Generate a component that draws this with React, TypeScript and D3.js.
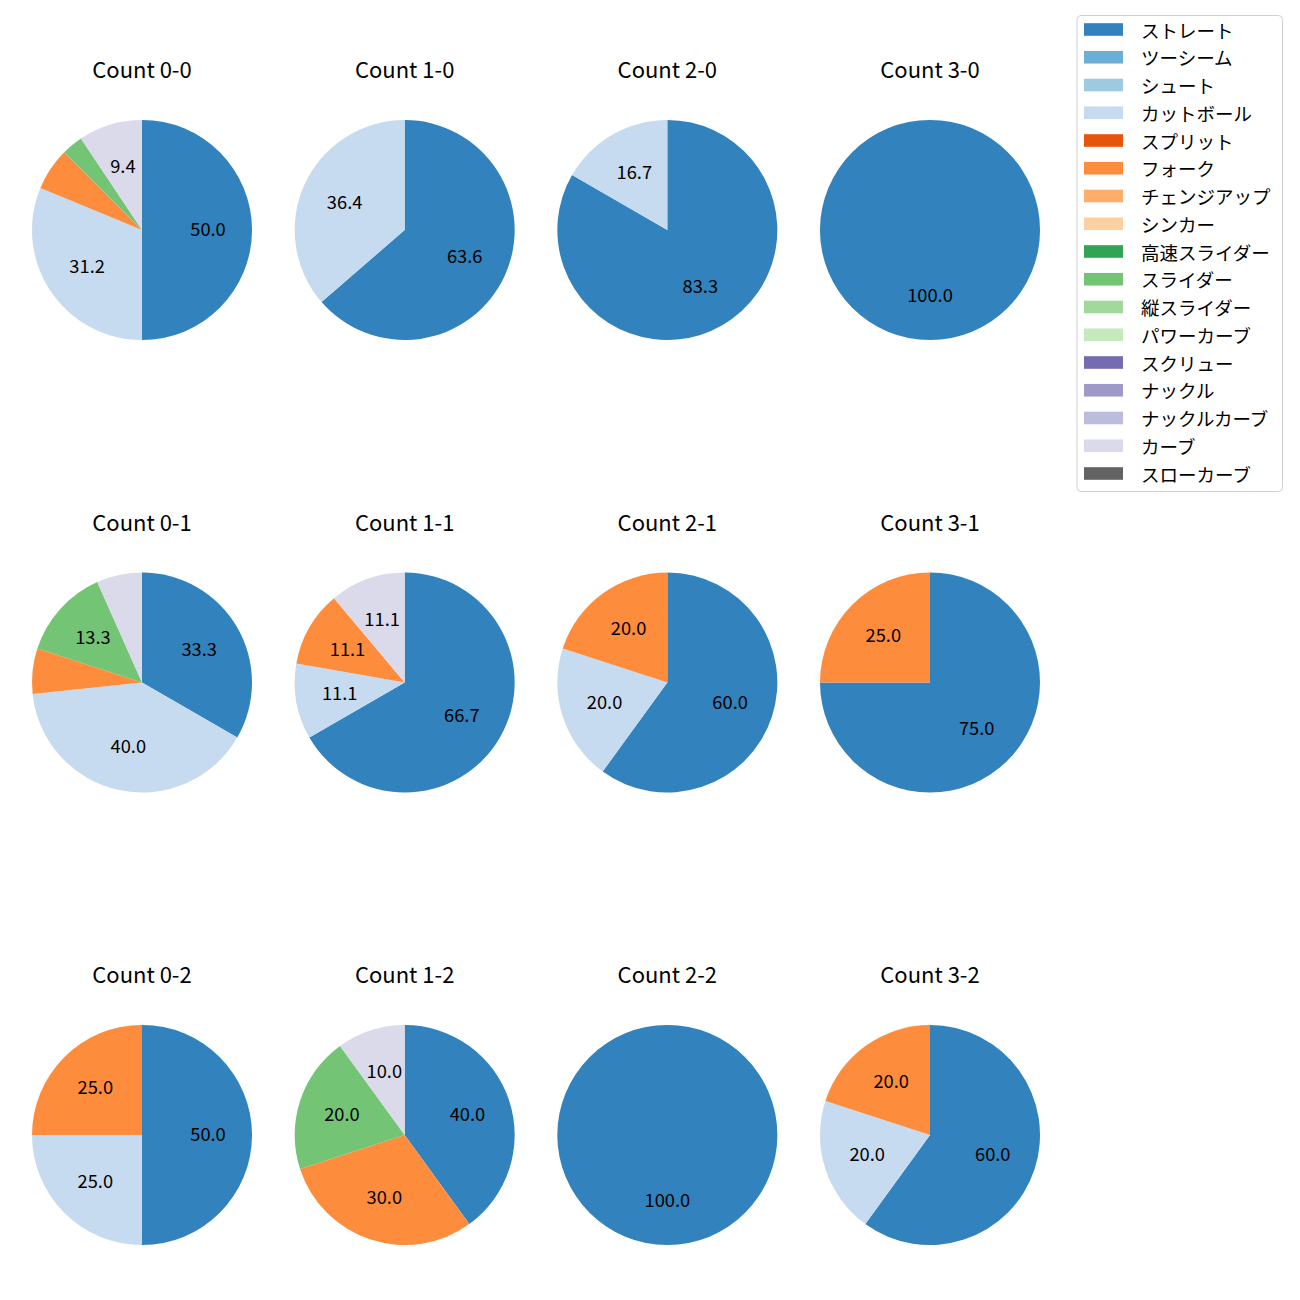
import React from "react";
import * as d3 from "d3";

const pitchTypes = ["ストレート","ツーシーム","シュート","カットボール","スプリット","フォーク","チェンジアップ","シンカー","高速スライダー","スライダー","縦スライダー","パワーカーブ","スクリュー","ナックル","ナックルカーブ","カーブ","スローカーブ"];
const pitchColors = ["#3182bd","#6baed6","#9ecae1","#c6dbef","#e6550d","#fd8d3c","#fdae6b","#fdd0a2","#31a354","#74c476","#a1d99b","#c7e9c0","#756bb1","#9e9ac8","#bcbddc","#dadaeb","#636363"];

const countLabels = ["Count 0-0","Count 1-0","Count 2-0","Count 3-0","Count 0-1","Count 1-1","Count 2-1","Count 3-1","Count 0-2","Count 1-2","Count 2-2","Count 3-2"];

// pitch counts per count situation (same order as countLabels)
const straight = [16,7,5,1,5,6,3,3,2,4,1,3];
const cutter =   [10,4,1,0,6,1,1,0,1,0,0,1];
const fork =     [2,0,0,0,1,1,1,1,1,3,0,1];
const slider =   [1,0,0,0,2,0,0,0,0,2,0,0];
const curve =    [3,0,0,0,1,1,0,0,0,1,0,0];

const seriesByType: Record<string, number[]> = {
  "ストレート": straight,
  "カットボール": cutter,
  "フォーク": fork,
  "スライダー": slider,
  "カーブ": curve,
};

const FONT = "'Noto Sans CJK JP', 'Noto Sans', sans-serif";

function fmt(p: number) {
  return (p - 1e-9).toFixed(1);
}

export default function App() {
  const colX = d3.scalePoint<number>().domain([0,1,2,3]).range([142, 930]);
  const rowY = d3.scalePoint<number>().domain([0,1,2]).range([230, 1135]);
  const r = 110;
  const pie = d3.pie<{ type: string; v: number; color: string }>().sort(null).value(d => d.v).startAngle(0).endAngle(2 * Math.PI);
  const arc = d3.arc<any>().innerRadius(0).outerRadius(r);

  return (
    <svg width={1300} height={1300} style={{ position: "absolute", left: 0, top: 0, background: "#fff" }} fontFamily={FONT}>
      <rect width={1300} height={1300} fill="#fff" />
      {countLabels.map((lab, i) => {
        const cx = colX(i % 4)!;
        const cy = rowY(Math.floor(i / 4))!;
        const data = pitchTypes.map((t, k) => ({ type: t, v: seriesByType[t] ? seriesByType[t][i] : 0, color: pitchColors[k] })).filter(d => d.v > 0);
        const total = d3.sum(data, d => d.v);
        const arcs = pie(data);
        return (
          <g key={lab}>
            <text x={cx} y={cy - 162} textAnchor="middle" dominantBaseline="central" fontSize={22} fill="#000">{lab}</text>
            <g transform={`translate(${cx},${cy})`}>
              {arcs.map((a, k) => (
                <path key={k} d={arc(a) as string} fill={a.data.color} />
              ))}
              {arcs.map((a, k) => {
                const pct = (a.data.v / total) * 100;
                if (pct < 8) return null;
                const m = (a.startAngle + a.endAngle) / 2;
                const x = Math.sin(m) * r * 0.6;
                const y = -Math.cos(m) * r * 0.6;
                return (
                  <text key={"t" + k} x={x} y={y - 2} textAnchor="middle" dominantBaseline="central" fontSize={18.3} fill="#000">{fmt(pct)}</text>
                );
              })}
            </g>
          </g>
        );
      })}
      <g>
        <rect x={1077} y={15.5} width={205.5} height={476} rx={4} fill="#fff" stroke="#d0d0d0" strokeWidth={1} />
        {pitchTypes.map((t, k) => {
          const y = 29.5 + k * 27.75;
          return (
            <g key={t}>
              <rect x={1084} y={y - 6.3} width={39} height={12.6} fill={pitchColors[k]} />
              <text x={1141} y={y} dominantBaseline="central" fontSize={18.5} fill="#000">{t}</text>
            </g>
          );
        })}
      </g>
    </svg>
  );
}
